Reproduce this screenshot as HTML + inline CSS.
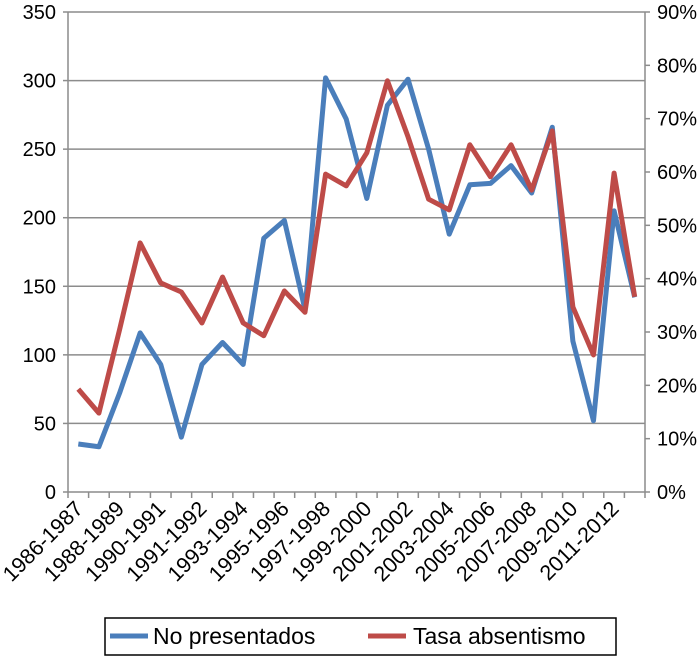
<!DOCTYPE html>
<html><head><meta charset="utf-8"><style>
body{margin:0;background:#fff;font-family:"Liberation Sans",sans-serif}
</style></head><body>
<svg id="chart" width="700" height="657" xmlns="http://www.w3.org/2000/svg" font-family="Liberation Sans, sans-serif"></svg>
<script>
const categories=["1986-1987","1987-1988","1988-1989","1989-1990","1990-1991","1990-1991b","1991-1992","1992-1993","1993-1994","1994-1995","1995-1996","1996-1997","1997-1998","1998-1999","1999-2000","2000-2001","2001-2002","2002-2003","2003-2004","2004-2005","2005-2006","2006-2007","2007-2008","2008-2009","2009-2010","2010-2011","2011-2012","2012-2013"];
const shownLabels=["1986-1987","","1988-1989","","1990-1991","","1991-1992","","1993-1994","","1995-1996","","1997-1998","","1999-2000","","2001-2002","","2003-2004","","2005-2006","","2007-2008","","2009-2010","","2011-2012",""];
const noPresentados=[35,33,72,116,93,40,93,109,93,185,198,133,302,272,214,282,301,250,188,224,225,238,218,266,110,52,205,142];
const tasaAbsentismo=[19.3,14.8,30.4,46.7,39.2,37.5,31.7,40.3,31.7,29.3,37.7,33.7,59.6,57.4,63.6,77.1,66.6,54.9,52.9,65.1,59.1,65.1,56.6,67.7,34.7,25.7,59.8,36.6];
const leftTicks=[0,50,100,150,200,250,300,350];
const rightTicks=[0,10,20,30,40,50,60,70,80,90];
const svg=document.getElementById('chart');const NS='http://www.w3.org/2000/svg';
const X0=68,X1=645,Y0=492,Y1=12;
const step=(X1-X0)/categories.length;
const xs=i=>X0+step*(i+0.5);
const yL=v=>Y0-(v/350)*(Y0-Y1);
const yR=v=>Y0-(v/90)*(Y0-Y1);
function mk(t,a,p){const e=document.createElementNS(NS,t);for(const k in a)e.setAttribute(k,a[k]);(p||svg).appendChild(e);return e;}
leftTicks.forEach(v=>{
 const g=mk('line',{x1:X0,x2:X1,y1:yL(v),y2:yL(v),stroke:'#8c8c8c','stroke-width':1.5});
 
 
 mk('line',{x1:X0-5,x2:X0,y1:yL(v),y2:yL(v),stroke:'#8c8c8c','stroke-width':1.5});
 const t=mk('text',{x:X0-12,y:yL(v)+7,'text-anchor':'end','font-size':20,fill:'#000'});t.textContent=v;
 
 
});
rightTicks.forEach(v=>{
 mk('line',{x1:X1,x2:X1+5,y1:yR(v),y2:yR(v),stroke:'#8c8c8c','stroke-width':1.5});
 const t=mk('text',{x:X1+12,y:yR(v)+7,'font-size':20,fill:'#000'});t.textContent=v+'%';
 
 
});
mk('line',{x1:X0,x2:X0,y1:Y1,y2:Y0,stroke:'#8c8c8c','stroke-width':1.5});
mk('line',{x1:X1,x2:X1,y1:Y1,y2:Y0,stroke:'#8c8c8c','stroke-width':1.5});
for(let i=0;i<=categories.length;i++)mk('line',{x1:X0+step*i,x2:X0+step*i,y1:Y0,y2:Y0+6,stroke:'#8c8c8c','stroke-width':1.5});
shownLabels.forEach((l,i)=>{if(!l)return;
 const x=xs(i)+6,y=Y0+18;
 const t=mk('text',{x:x,y:y,'text-anchor':'end','font-size':21.5,fill:'#000',transform:`rotate(-45 ${x} ${y})`});t.textContent=l;
 
 
});
const pb=mk('polyline',{points:noPresentados.map((v,i)=>xs(i)+','+yL(v)).join(' '),fill:'none',stroke:'#4a7ebb','stroke-width':5,'stroke-linejoin':'round'});


const pr=mk('polyline',{points:tasaAbsentismo.map((v,i)=>xs(i)+','+yR(v)).join(' '),fill:'none',stroke:'#be4b48','stroke-width':5,'stroke-linejoin':'round'});


const lg=mk('g',{});


mk('rect',{x:105,y:618,width:511,height:37,fill:'#fff',stroke:'#000','stroke-width':1.5},lg);
mk('line',{x1:110,x2:148,y1:636,y2:636,stroke:'#4a7ebb','stroke-width':5},lg);
const t1=mk('text',{x:153,y:644,'font-size':23,fill:'#000'},lg);t1.textContent='No presentados';


mk('line',{x1:368,x2:406,y1:636,y2:636,stroke:'#be4b48','stroke-width':5},lg);
const t2=mk('text',{x:413,y:644,'font-size':23,fill:'#000'},lg);t2.textContent='Tasa absentismo';


</script>
</body></html>
